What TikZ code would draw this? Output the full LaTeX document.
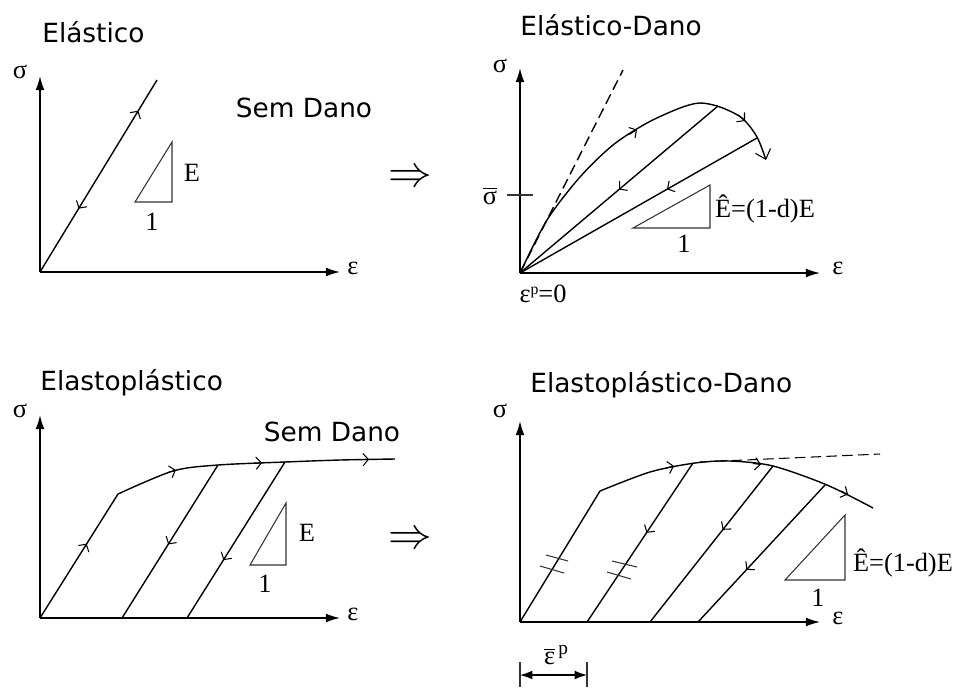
\documentclass[tikz,border=0pt]{standalone}
\usepackage{fontspec}
\setmainfont{Liberation Serif}
\newfontfamily\titlefont{DejaVu Sans}
\usetikzlibrary{arrows.meta,decorations.markings}
\begin{document}
\begin{tikzpicture}[x=0.02cm,y=-0.02cm,
  ln/.style={line width=0.8pt},
  tri/.style={line width=0.6pt, draw=black!80},
  axis/.style={line width=0.8pt,-{Latex[length=8pt,width=5pt]}},
  ttl/.style={font=\titlefont\fontsize{15}{18}\selectfont, anchor=west, inner sep=0pt},
  sd/.style={font=\titlefont\fontsize{15}{18}\selectfont, inner sep=0pt},
  lab/.style={font=\fontsize{15}{18}\selectfont, inner sep=1pt},
  fw/.style={postaction={decorate,decoration={markings,mark=at position #1 with {\arrow[line width=0.6pt]{Straight Barb[length=3pt,width=7pt]}}}}},
  bw/.style={postaction={decorate,decoration={markings,mark=at position #1 with {\arrowreversed[line width=0.6pt]{Straight Barb[length=3pt,width=7pt]}}}}},
  mk/.style={line width=0.6pt, -{Straight Barb[length=3pt,width=7pt]}},
  tip/.style={-{Straight Barb[length=5pt,width=9pt,line width=0.6pt]}},
  impl/.style={font=\fontsize{24}{26}\selectfont, inner sep=0pt}
]
\useasboundingbox (0,0) rectangle (959,687);

% ---------------- Panel 1: Elastico ----------------
\node[ttl] (t1) at (42,32) {Elástico};
\coordinate (O1) at (40,272);
\coordinate (Y1) at (40,76);
\coordinate (X1) at (340,272);
\draw[axis] (O1) -- (Y1);
\draw[axis] (O1) -- (X1);
\node[lab] (s1) at (20,72) {σ};
\node[lab] (e1) at (353,268) {ε};
\coordinate (L1) at (157,80);
\draw[ln, fw=0.84, bw=0.33] (O1) -- (L1);
\coordinate (A1) at (135,202); \coordinate (B1) at (172,202); \coordinate (C1) at (172,142);
\draw[tri] (A1) -- (B1) -- (C1) -- cycle;
\node[lab] (E1) at (192,173) {E};
\node[lab] (u1) at (152,222) {1};
\node[sd] (sd1) at (304,108) {Sem Dano};
\node[impl] (imp1) at (410,178) {$\Rightarrow$};

% ---------------- Panel 2: Elastico-Dano ----------------
\node[ttl] (t2) at (520,25) {Elástico-Dano};
\coordinate (O2) at (520,273);
\coordinate (Y2) at (520,68);
\coordinate (X2) at (820,273);
\draw[axis] (O2) -- (Y2);
\draw[axis] (O2) -- (X2);
\node[lab] (s2) at (500,66) {σ};
\node[lab] (e2) at (838,268) {ε};
\coordinate (D2) at (623,70);
\draw[ln, dashed, dash pattern=on 6pt off 3pt] (O2) -- (D2);
\draw[ln, tip] plot[smooth] coordinates {(520,273) (547,220) (580,177) (613,145) (647,123) (680,108) (700,103) (720,107) (742,118) (757,137) (766,160)};
\coordinate (m21a) at (629,134.5); \coordinate (m21b) at (637,129.6);
\coordinate (m22a) at (738,115); \coordinate (m22b) at (745,121);
\draw[mk] (m21a) -- (m21b);
\draw[mk] (m22a) -- (m22b);
\coordinate (P21) at (718,106);
\coordinate (P22) at (757,138);
\draw[ln, bw=0.5] (O2) -- (P21);
\draw[ln, bw=0.62] (O2) -- (P22);
\node[lab] (sb) at (490,196) {$\overline{\mbox{σ}}$};
\coordinate (sbA) at (507,195); \coordinate (sbB) at (533,195);
\draw[tri] (sbA) -- (sbB);
\coordinate (A2) at (633,228); \coordinate (B2) at (710,228); \coordinate (C2) at (710,185);
\draw[tri] (A2) -- (B2) -- (C2) -- cycle;
\node[lab, anchor=west] (E2) at (713,209) {Ê=(1-d)E};
\node[lab] (u2) at (684,244) {1};
\node[lab] (ep0) at (543,294) {ε\raisebox{0.7ex}{\fontsize{9}{10}\selectfont p}=0};

% ---------------- Panel 3: Elastoplastico ----------------
\node[ttl] (t3) at (40,383) {Elastoplástico};
\coordinate (O3) at (40,618);
\coordinate (Y3) at (40,415);
\coordinate (X3) at (340,618);
\draw[axis] (O3) -- (Y3);
\draw[axis] (O3) -- (X3);
\node[lab] (s3) at (20,411) {σ};
\node[lab] (e3) at (353,614) {ε};
\coordinate (K3) at (118,494);
\draw[ln, fw=0.6] (O3) -- (K3);
\draw[ln] plot[smooth] coordinates {(118,494) (173,471) (218,465) (285,462) (340,460) (395,459)};
\coordinate (m31a) at (168,472.5); \coordinate (m31b) at (176,470);
\coordinate (m32a) at (254,463.2); \coordinate (m32b) at (262,462.8);
\coordinate (m33a) at (361,459.6); \coordinate (m33b) at (369,459.4);
\draw[mk] (m31a) -- (m31b);
\draw[mk] (m32a) -- (m32b);
\draw[mk] (m33a) -- (m33b);
\coordinate (U31) at (218,465); \coordinate (V31) at (122,618);
\coordinate (U32) at (285,462); \coordinate (V32) at (187,618);
\draw[ln, fw=0.52] (U31) -- (V31);
\draw[ln, fw=0.63] (U32) -- (V32);
\coordinate (A3) at (250,565); \coordinate (B3) at (286,565); \coordinate (C3) at (286,503);
\draw[tri] (A3) -- (B3) -- (C3) -- cycle;
\node[lab] (E3) at (307,533) {E};
\node[lab] (u3) at (265,584) {1};
\node[sd] (sd3) at (332,432) {Sem Dano};
\node[impl] (imp2) at (410,540) {$\Rightarrow$};

% ---------------- Panel 4: Elastoplastico-Dano ----------------
\node[ttl] (t4) at (530,385) {Elastoplástico-Dano};
\coordinate (O4) at (520,622);
\coordinate (Y4) at (520,421);
\coordinate (X4) at (820,622);
\draw[axis] (O4) -- (Y4);
\draw[axis] (O4) -- (X4);
\node[lab] (s4) at (500,411) {σ};
\node[lab] (e4) at (838,618) {ε};
\coordinate (K4) at (600,491);
\draw[ln] (O4) -- (K4);
\draw[ln] plot[smooth] coordinates {(600,491) (650,472) (695,463) (730,461) (773,466) (827,485) (873,508)};
\coordinate (m41a) at (666,468); \coordinate (m41b) at (674,466);
\coordinate (m42a) at (753,463.5); \coordinate (m42b) at (761,464.5);
\coordinate (m43a) at (841,491); \coordinate (m43b) at (848,494.5);
\draw[mk] (m41a) -- (m41b);
\draw[mk] (m42a) -- (m42b);
\draw[mk] (m43a) -- (m43b);
\coordinate (Da) at (700,462); \coordinate (Db) at (880,454);
\draw[dashed, dash pattern=on 6pt off 3pt, line width=0.6pt] (Da) -- (Db);
\coordinate (U41) at (693,463); \coordinate (V41) at (587,622);
\coordinate (U42) at (773,466); \coordinate (V42) at (650,622);
\coordinate (U43) at (825,485); \coordinate (V43) at (698,622);
\draw[ln, fw=0.44] (U41) -- (V41);
\draw[ln, fw=0.41] (U42) -- (V42);
\draw[ln, fw=0.62] (U43) -- (V43);
% hash marks
\coordinate (h1a) at (546,555); \coordinate (h1b) at (568,561);
\coordinate (h2a) at (540,566); \coordinate (h2b) at (564,573);
\coordinate (h3a) at (612,561); \coordinate (h3b) at (637,567);
\coordinate (h4a) at (607,572); \coordinate (h4b) at (631,579);
\draw[tri] (h1a) -- (h1b);
\draw[tri] (h2a) -- (h2b);
\draw[tri] (h3a) -- (h3b);
\draw[tri] (h4a) -- (h4b);
\coordinate (A4) at (785,580); \coordinate (B4) at (845,580); \coordinate (C4) at (845,515);
\draw[tri] (A4) -- (B4) -- (C4) -- cycle;
\node[lab, anchor=west] (E4) at (851,563) {Ê=(1-d)E};
\node[lab] (u4) at (818,598) {1};
% plastic strain dimension
\coordinate (d1) at (520,662); \coordinate (d1b) at (520,687);
\coordinate (d2) at (587,662); \coordinate (d2b) at (587,687);
\draw[tri] (d1) -- (d1b);
\draw[tri] (d2) -- (d2b);
\coordinate (dA) at (520,675); \coordinate (dB) at (587,675);
\draw[line width=0.7pt, {Latex[length=7pt,width=5pt]}-{Latex[length=7pt,width=5pt]}] (dA) -- (dB);
\node[lab] (epb) at (556,655) {$\overline{\mbox{ε}}$\raisebox{0.8ex}{\fontsize{11}{12}\selectfont\,p}};
\end{tikzpicture}
\end{document}
